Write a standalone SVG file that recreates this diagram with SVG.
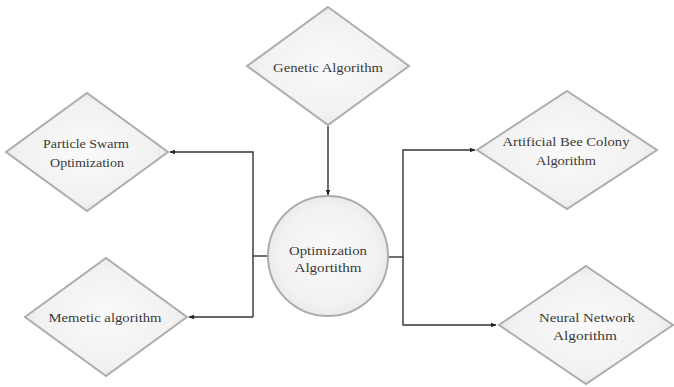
<svg xmlns="http://www.w3.org/2000/svg" width="674" height="387" viewBox="0 0 674 387">
<style>
.shape{fill:url(#g);stroke:#adadad;stroke-width:2}
.t{font-size:13px;fill:#3a3a3a;text-anchor:middle;dominant-baseline:central}
.c{fill:none;stroke:#333;stroke-width:1.4}
</style>
<defs>
<radialGradient id="g" cx="50%" cy="50%" r="60%">
<stop offset="0" stop-color="#fafafa"/>
<stop offset="0.7" stop-color="#f1f1f1"/>
<stop offset="1" stop-color="#e2e2e2"/>
</radialGradient>
<marker id="a" viewBox="0 0 10 10" refX="9" refY="5" markerWidth="6" markerHeight="6" orient="auto" markerUnits="userSpaceOnUse">
<path d="M0,1 L10,5 L0,9 z" fill="#222"/>
</marker>
</defs>
<rect width="674" height="387" fill="#fff"/>
<g id="connectors">
<line class="c" x1="328" y1="126" x2="328" y2="195" marker-end="url(#a)"/>
<polyline class="c" points="268,256 253,256"/>
<polyline class="c" points="253,317 253,152 170,152" marker-end="url(#a)"/>
<polyline class="c" points="253,317 189,317" marker-end="url(#a)"/>
<polyline class="c" points="388,257 403,257"/>
<polyline class="c" points="403,257 403,150 475,150" marker-end="url(#a)"/>
<polyline class="c" points="403,257 403,325 496,325" marker-end="url(#a)"/>
</g>
<g font-family="Liberation Serif, DejaVu Serif, Times New Roman, serif">
<g id="genetic">
<polygon class="shape" points="328,7 409,66 328,125 247,66"/>
<text class="t" x="328" y="67" textLength="110" lengthAdjust="spacingAndGlyphs">Genetic Algorithm</text>
</g>
<g id="pso">
<polygon class="shape" points="87,93 168,152 87,211 6,152"/>
<text class="t" x="86" y="143" textLength="86" lengthAdjust="spacingAndGlyphs">Particle Swarm</text>
<text class="t" x="87" y="162" textLength="74" lengthAdjust="spacingAndGlyphs">Optimization</text>
</g>
<g id="memetic">
<polygon class="shape" points="106,258 187,317 106,376 25,317"/>
<text class="t" x="105" y="317" textLength="113" lengthAdjust="spacingAndGlyphs">Memetic algorithm</text>
</g>
<g id="center">
<circle class="shape" cx="328" cy="256" r="60"/>
<text class="t" x="328" y="250" textLength="78" lengthAdjust="spacingAndGlyphs">Optimization</text>
<text class="t" x="328" y="267" textLength="67" lengthAdjust="spacingAndGlyphs">Algortithm</text>
</g>
<g id="abc">
<polygon class="shape" points="567,91 657,150 567,209 477,150"/>
<text class="t" x="566" y="141" textLength="127" lengthAdjust="spacingAndGlyphs">Artificial Bee Colony</text>
<text class="t" x="566" y="160" textLength="60" lengthAdjust="spacingAndGlyphs">Algorithm</text>
</g>
<g id="nn">
<polygon class="shape" points="586,266 673,325 586,384 499,325"/>
<text class="t" x="587" y="317" textLength="96" lengthAdjust="spacingAndGlyphs">Neural Network</text>
<text class="t" x="585" y="335" textLength="64" lengthAdjust="spacingAndGlyphs">Algorithm</text>
</g>
</g>
</svg>
